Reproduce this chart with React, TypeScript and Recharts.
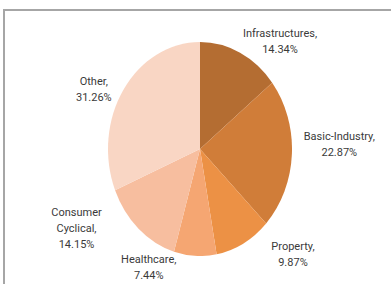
import { PieChart, Pie, Cell } from 'recharts'

const sectors = ['Infrastructures', 'Basic-Industry', 'Property', 'Healthcare', 'Consumer Cyclical', 'Other']
const shares = [14.34, 22.87, 9.87, 7.44, 14.15, 31.26]
const colors = ['#b46d32', '#d07d39', '#ec9145', '#f5a672', '#f7be9f', '#f9d6c4']

// label placement tweaks (best-fit style), relative to each slice's mid angle
const labelNudgeDeg = [15, -4.6, -17.6, 23.8, 19.4, -7.9]
const labelDist = [1.33, 1.515, 1.41, 1.234, 1.53, 1.282]

const data = sectors.map((name, i) => ({ name, value: shares[i] }))

const W = 391
const H = 284
const CX = 200
const CY = 149
const RX = 92
const RY = 107
const NO_MARGIN = { top: 0, right: 0, bottom: 0, left: 0 }

function splitName(name: string): string[] {
  if (name === 'Consumer Cyclical') return ['Consumer', 'Cyclical,']
  return [name + ',']
}

function renderLabel(props: any) {
  const { midAngle, index, name, value } = props
  const theta = ((90 - midAngle + labelNudgeDeg[index]) * Math.PI) / 180
  const k = labelDist[index]
  const x = CX + RX * k * Math.sin(theta)
  const y = CY - RY * k * Math.cos(theta)
  const lines = [...splitName(name), `${value.toFixed(2)}%`]
  const lh = 16
  const y0 = y - ((lines.length - 1) * lh) / 2
  return (
    <text
      key={name}
      x={x}
      y={y0}
      textAnchor="middle"
      dominantBaseline="central"
      fill="#3a3a3a"
      fontSize={11}
      fontFamily="Roboto, 'Liberation Sans', sans-serif"
    >
      {lines.map((l, j) => (
        <tspan key={j} x={x} y={y0 + j * lh}>
          {l}
        </tspan>
      ))}
    </text>
  )
}

export default function App() {
  return (
    <div style={{ position: 'absolute', left: 0, top: 0, width: W, height: H, background: '#fff', overflow: 'hidden' }}>
      <div
        style={{
          position: 'absolute',
          left: 3,
          top: 9,
          width: W,
          height: H,
          borderTop: '2px solid #a6a6a6',
          borderLeft: '2px solid #a6a6a6',
        }}
      />
      {/* slices, stretched vertically like the original */}
      <div
        style={{
          position: 'absolute',
          left: 0,
          top: 0,
          transform: `scaleY(${RY / RX})`,
          transformOrigin: `${CX}px ${CY}px`,
        }}
      >
        <PieChart width={W} height={H} margin={NO_MARGIN}>
          <Pie
            data={data}
            dataKey="value"
            nameKey="name"
            cx={CX}
            cy={CY}
            outerRadius={RX}
            startAngle={90}
            endAngle={-270}
            stroke="none"
            isAnimationActive={false}
          >
            {data.map((d, i) => (
              <Cell key={d.name} fill={colors[i]} />
            ))}
          </Pie>
        </PieChart>
      </div>
      {/* labels */}
      <div style={{ position: 'absolute', left: 0, top: 0 }}>
        <PieChart width={W} height={H} margin={NO_MARGIN}>
          <Pie
            data={data}
            dataKey="value"
            nameKey="name"
            cx={CX}
            cy={CY}
            outerRadius={RX}
            startAngle={90}
            endAngle={-270}
            fill="none"
            stroke="none"
            labelLine={false}
            label={renderLabel}
            isAnimationActive={false}
          />
        </PieChart>
      </div>
    </div>
  )
}
